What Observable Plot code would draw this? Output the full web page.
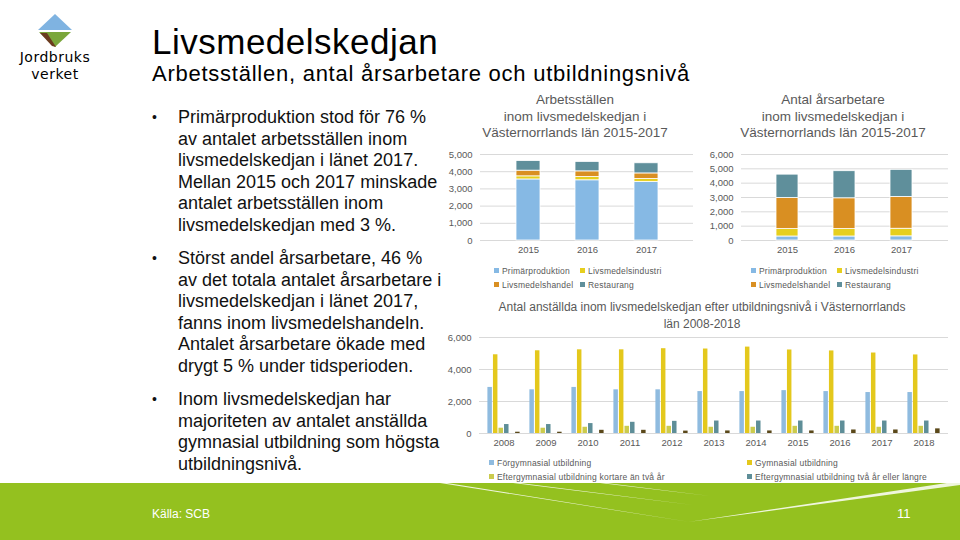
<!DOCTYPE html>
<html><head><meta charset="utf-8">
<script src="https://cdn.jsdelivr.net/npm/d3@7"></script>
<script src="https://cdn.jsdelivr.net/npm/@observablehq/plot@0.6"></script>
<style>
html,body{margin:0;padding:0;background:#fff;}
body{width:960px;height:540px;overflow:hidden;position:relative;font-family:"Liberation Sans",Arial,sans-serif;}
.abs{position:absolute;}
.title{left:152px;top:22px;font-size:35px;letter-spacing:0.5px;color:#000;line-height:40px;}
.subtitle{left:152px;top:61px;font-size:22px;letter-spacing:0.75px;color:#000;line-height:26px;}
.bullets{left:152px;top:107px;font-size:18px;line-height:21.5px;color:#111;white-space:nowrap;}
.bullets p{margin:0 0 12px 0;padding-left:26px;position:relative;}
.bullets p::before{content:"•";position:absolute;left:0;top:0;font-size:14px;}
.ctitle{font-size:13.5px;line-height:16.5px;color:#595959;text-align:center;}
.leg{font-size:8.5px;color:#595959;white-space:nowrap;line-height:12px;letter-spacing:0.2px;}
.leg i{display:inline-block;width:5px;height:5px;margin-right:3px;vertical-align:1px;}
.chart svg{overflow:visible;}
</style></head><body>

<svg class="abs" style="left:0;top:0" width="120" height="90">
  <polygon points="55,14 72,30 38,30" fill="#7fb3e1"/>
  <polygon points="39,32 71,32 55,47" fill="#7aa63a"/>
  <polygon points="40,33 47,33 56,47 52,46" fill="#6b3b1f"/>
  <line x1="39" y1="31" x2="71" y2="31" stroke="#fff" stroke-width="1.2"/>
  <text x="55" y="62" text-anchor="middle" font-family="DejaVu Sans" font-size="14" letter-spacing="0.5" fill="#000">Jordbruks</text>
  <text x="55" y="79" text-anchor="middle" font-family="DejaVu Sans" font-size="14" letter-spacing="0.5" fill="#000">verket</text>
</svg>

<div class="abs title">Livsmedelskedjan</div>
<div class="abs subtitle">Arbetsställen, antal årsarbetare och utbildningsnivå</div>

<div class="abs bullets">
<p>Primärproduktion stod för 76 %<br>av antalet arbetsställen inom<br>livsmedelskedjan i länet 2017.<br>Mellan 2015 och 2017 minskade<br>antalet arbetsställen inom<br>livsmedelskedjan med 3 %.</p>
<p>Störst andel årsarbetare, 46 %<br>av det totala antalet årsarbetare i<br>livsmedelskedjan i länet 2017,<br>fanns inom livsmedelshandeln.<br>Antalet årsarbetare ökade med<br>drygt 5 % under tidsperioden.</p>
<p>Inom livsmedelskedjan har<br>majoriteten av antalet anställda<br>gymnasial utbildning som högsta<br>utbildningsnivå.</p>
</div>

<svg class="abs" style="left:0;top:478px" width="960" height="62" viewBox="0 478 960 62">
  <rect x="0" y="483" width="960" height="57" fill="#94c11f"/>
  <polygon points="440,483 447,483 690,522" fill="#fff" opacity="0.85"/>
  <polygon points="513,483 520,483 693,505" fill="#fff" opacity="0.85"/>
  <polygon points="600,483 606,483 710,496" fill="#fff" opacity="0.85"/>
  <polygon points="960,481 960,485 688,522" fill="#fff" opacity="0.85"/>
</svg>
<div class="abs" style="left:152px;top:507px;font-size:12px;color:#fff;">Källa: SCB</div>
<div class="abs" style="left:897px;top:506px;font-size:13px;color:#fff;">11</div>

<div class="abs ctitle" style="left:450px;top:92px;width:250px;">Arbetsställen<br>inom livsmedelskedjan i<br>Västernorrlands län 2015-2017</div>
<div class="abs ctitle" style="left:708px;top:92px;width:250px;">Antal årsarbetare<br>inom livsmedelskedjan i<br>Västernorrlands län 2015-2017</div>
<div class="abs ctitle" style="left:402px;top:299px;width:600px;font-size:12px;">Antal anställda inom livsmedelskedjan efter utbildningsnivå i Västernorrlands<br>län 2008-2018</div>

<div id="c1" class="abs chart" style="left:440px;top:145px;"></div>
<div id="c2" class="abs chart" style="left:700px;top:145px;"></div>
<div id="c3" class="abs chart" style="left:440px;top:325px;"></div>
<div id="legends"></div>

<script>
// ---- Data ----
const sectorNames = ["Primärproduktion", "Livsmedelsindustri", "Livsmedelshandel", "Restaurang"];
const years1 = ["2015", "2016", "2017"];
// Arbetsställen
const arbPrimar = [3550, 3500, 3410];
const arbIndustri = [180, 190, 170];
const arbHandel = [330, 330, 320];
const arbRestaurang = [560, 550, 590];
// Antal årsarbetare
const aarPrimar = [280, 280, 290];
const aarIndustri = [515, 515, 530];
const aarHandel = [2170, 2150, 2220];
const aarRestaurang = [1630, 1890, 1890];
const ticks1 = [0, 1000, 2000, 3000, 4000, 5000];
const ticks2 = [0, 1000, 2000, 3000, 4000, 5000, 6000];

const years3 = ["2008", "2009", "2010", "2011", "2012", "2013", "2014", "2015", "2016", "2017", "2018"];
const eduNames = ["Förgymnasial utbildning", "Gymnasial utbildning", "Eftergymnasial utbildning kortare än två år", "Eftergymnasial utbildning två år eller längre", "Uppgift saknas"];
const forgymnasial = [2880, 2730, 2880, 2730, 2730, 2620, 2620, 2680, 2620, 2560, 2560];
const gymnasial = [4920, 5170, 5230, 5230, 5300, 5280, 5400, 5220, 5160, 5030, 4910];
const eftKortare = [330, 330, 390, 450, 450, 390, 390, 450, 450, 390, 450];
const eftLangre = [560, 560, 620, 700, 760, 780, 780, 780, 780, 780, 780];
const uppgiftSaknas = [80, 80, 200, 200, 150, 160, 160, 160, 220, 220, 290];
const ticks3 = [0, 2000, 4000, 6000];

// ---- Styles ----
const colors1 = ["#86b9e4", "#e6cf1e", "#d98f22", "#5f8f9b"];
const colors3 = ["#8fbbdf", "#e4c81c", "#cbcb4d", "#5e8e98", "#5a4819"];
const slots3 = [0, 1, 2, 3, 5];
const gridColor = "#d9d9d9";
const font = "'Liberation Sans', Arial, sans-serif";
const fmt = d3.format(",");

function stackRows(vals) {
  return years1.flatMap((y, i) => sectorNames.map((s, j) => ({year: y, sector: s, value: vals[j][i]})));
}

function stacked(el, vals, ticks, maxY, mL, mR, pad) {
  const p = Plot.plot({
    width: 260, height: 115, marginLeft: mL, marginRight: mR, marginTop: 9, marginBottom: 20,
    style: {fontFamily: font, fontSize: "9.5px", color: "#595959", background: "none"},
    x: {domain: years1, padding: pad, label: null, tickSize: 0, tickPadding: 6},
    y: {domain: [0, maxY], ticks: ticks, tickFormat: fmt, label: null, tickSize: 0, tickPadding: 8},
    color: {domain: sectorNames, range: colors1},
    marks: [
      Plot.ruleY(ticks, {stroke: gridColor}),
      Plot.barY(stackRows(vals), {x: "year", y: "value", fill: "sector", stroke: "white", strokeWidth: 0.8})
    ]
  });
  document.getElementById(el).appendChild(p);
}

stacked("c1", [arbPrimar, arbIndustri, arbHandel, arbRestaurang], ticks1, 5000, 40, 7, 0.6);
stacked("c2", [aarPrimar, aarIndustri, aarHandel, aarRestaurang], ticks2, 6000, 41, 12, 0.61);

// Chart 3: grouped bars
const edu = [forgymnasial, gymnasial, eftKortare, eftLangre, uppgiftSaknas];
const w3 = 520, mL3 = 39, mR3 = 12, pIn = 0.22, pOut = 0.11;
const step3 = (w3 - mL3 - mR3) / (years3.length - pIn + 2 * pOut);
const bw3 = step3 * (1 - pIn);
const slotW = bw3 / 6;
const marks3 = [Plot.ruleY(ticks3, {stroke: gridColor})];
edu.forEach((arr, k) => {
  const rows = years3.map((y, i) => ({year: y, value: arr[i], serie: eduNames[k]}));
  const s = slots3[k];
  marks3.push(Plot.barY(rows, {x: "year", y: "value", fill: "serie",
    insetLeft: s * slotW + 0.4, insetRight: (5 - s) * slotW + 0.4}));
});
document.getElementById("c3").appendChild(Plot.plot({
  width: w3, height: 125, marginLeft: mL3, marginRight: mR3, marginTop: 12, marginBottom: 17,
  style: {fontFamily: font, fontSize: "9.5px", color: "#595959", background: "none"},
  x: {domain: years3, paddingInner: pIn, paddingOuter: pOut, label: null, tickSize: 0, tickPadding: 6},
  y: {domain: [0, 6000], ticks: ticks3, tickFormat: fmt, label: null, tickSize: 0, tickPadding: 8},
  color: {domain: eduNames, range: colors3},
  marks: marks3
}));

// Legends
const legendSpecs = [
  {names: sectorNames, colors: colors1, cols: [494, 580], rows: [265, 279]},
  {names: sectorNames, colors: colors1, cols: [751, 837], rows: [265, 279]},
  {names: eduNames.slice(0, 4), colors: colors3, cols: [489, 747], rows: [457, 471]}
];
const lg = document.getElementById("legends");
legendSpecs.forEach(spec => {
  spec.names.forEach((n, i) => {
    const d = document.createElement("div");
    d.className = "abs leg";
    d.style.left = spec.cols[i % 2] + "px";
    d.style.top = spec.rows[Math.floor(i / 2)] + "px";
    d.innerHTML = `<i style="background:${spec.colors[i]}"></i>`;
    d.appendChild(document.createTextNode(n));
    lg.appendChild(d);
  });
});
</script>
</body></html>
